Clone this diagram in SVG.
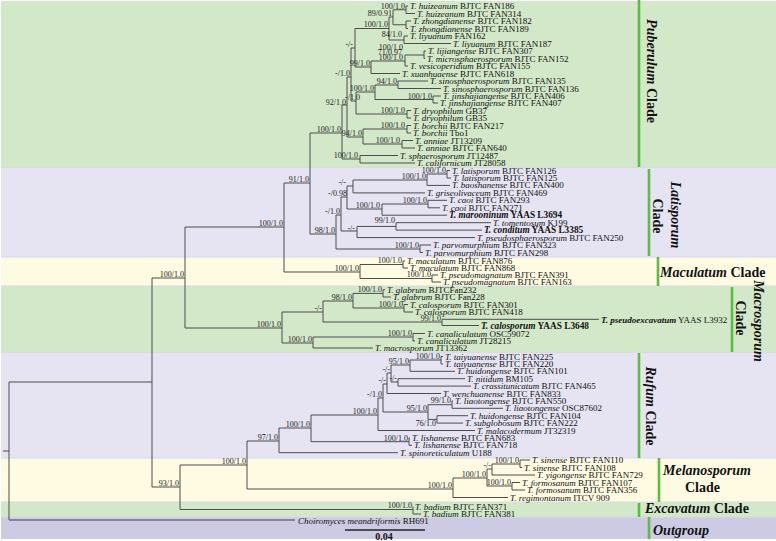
<svg xmlns="http://www.w3.org/2000/svg" width="776" height="541" viewBox="0 0 776 541">
<style>
.br{fill:none;stroke:#4d4d4d;stroke-width:1}
.og{fill:none;stroke:#6e6e88;stroke-width:1.3}
.t{font-family:"Liberation Serif","Times New Roman",serif;font-size:9px;fill:#111}
.i{font-style:italic}
.tb{font-weight:bold;font-size:9.3px}
.s{font-family:"Liberation Serif","Times New Roman",serif;font-size:8px;fill:#222;text-anchor:end}
.cl{font-family:"Liberation Serif","Times New Roman",serif;font-size:14px;font-weight:bold;fill:#111}
.mid{text-anchor:middle}
.bar{stroke:#5dbb48;stroke-width:2.6}
.sep{stroke:#d6dbe8;stroke-width:1}
</style>

<!-- clade bands -->
<g id="bands">
  <rect x="0" y="0" width="776" height="541" fill="#ffffff"/>
  <rect x="1" y="1" width="775" height="166.5" fill="#d3e8c8"/>
  <rect x="1" y="167.5" width="775" height="89.5" fill="#e6e4f3"/>
  <rect x="1" y="257" width="775" height="29" fill="#fefbe2"/>
  <rect x="1" y="286" width="775" height="66.5" fill="#d3e8c8"/>
  <rect x="1" y="352.5" width="775" height="105.5" fill="#e6e4f3"/>
  <rect x="1" y="458" width="775" height="44" fill="#fefbe2"/>
  <rect x="1" y="502" width="775" height="15" fill="#d3e8c8"/>
  <rect x="1" y="517" width="775" height="22" fill="#cdcae4"/>
  <path class="sep" d="M1,167.5H776M1,257H776M1,286H776M1,352.5H776M1,458H776M1,502H776M1,517H776"/>
</g>

<!-- branches -->
<g id="branches">
  <path class="br" d="M3,451H9M9,382V520M9,382H152M152,278V487M152,278H185M185,227V328M152,487H180M180,465V509.5M185,227H284M284,183V272M185,328H282M282,312V343M284,183H310M310,133V234M284,272H360M360,264.5V278.5M310,133H342M342,105V159M310,234H336M336,215V249"/>
  <path class="og" d="M9,520H295"/>
  <path class="br" d="M342,105H347M347,77V137M347,77H351M351,48V101M351,48H355M355,28.5V67M355,28.5H389M389,17V40M389,17H393M393,9.75V24.75M393,9.75H406M406,6V13.5M406,6H408M406,13.5H415M393,24.75H406M406,21V28.5M406,21H411M406,28.5H408M389,40H404M404,36V43.5M404,36H408M404,43.5H451M355,67H371M371,61V73.5M371,73.5H400M371,61H405M405,55V66M405,66H408M405,55H424M424,51V58.5M424,51H426M424,58.5H425M351,101H356M356,92V114M356,92H375M375,85V99.5M375,85H398M398,81V88.5M398,81H428M398,88.5H441M375,99.5H433M433,96V103M433,96H441M433,103H438M356,114H407M407,110.5V118M407,110.5H411M407,118H411M347,137H363M363,129V144M363,129H407M407,125.5V133M407,125.5H411M407,133H411M363,144H402M402,140.5V148M402,140.5H413M402,148H415M342,159H360M360,155.5V163M360,155.5H398M360,163H415"/>
  <path class="br" d="M336,215H341M341,197V231M341,197H347M347,186V209M347,186H353M353,180V192.9M353,192.9H425M353,180H427M427,174V185.4M427,185.4H450M427,174H447M447,170.5V178M447,170.5H450M447,178H451M347,209H382M382,204V215.2M382,215.2H447M382,204H428M428,200.3V207.8M428,200.3H447M428,207.8H440M341,231H357M357,226.4V237.6M357,237.6H475M357,226.4H396M396,222.7V230.1M396,222.7H491M396,230.1H482M336,249H420M420,245V252.5M420,245H431M420,252.5H423"/>
  <path class="br" d="M360,264.5H403M403,261V268M403,261H405M403,268H408M360,278.5H432M432,275V282M432,275H438M432,282H441"/>
  <path class="br" d="M282,312H323M323,301V322M323,301H353M353,293.4V308M353,293.4H383M383,289.7V297M383,289.7H385M383,297H391M353,308H404M404,304.5V312M404,304.5H408M404,312H413M323,322H442M442,319.3V325.5M442,319.3H599M442,325.5H479M282,343H313M313,337V348M313,348H373M313,337H413M413,333.5V341M413,333.5H425M413,341H415"/>
  <path class="br" d="M180,465H247M247,441V489M247,441H279M279,428V452.7M279,452.7H398M279,428H311M311,415V441.7M311,441.7H409M409,438V445.3M409,438H410M409,445.3H412M311,415H378M378,398V430.5M378,430.5H475M378,398H383M383,384V412M383,384H387M387,373V393.5M387,393.5H441M387,373H391M391,365V382M391,365H410M410,360V371.3M410,371.3H455M410,360H441M441,356.5V364M441,356.5H443M441,364H443M391,382H398M398,378.7V386.1M398,378.7H465M398,386.1H471M383,412H428M428,404.7V419.4M428,404.7H452M452,401V408.3M452,401H453M452,408.3H503M428,419.4H437M437,415.7V423.1M437,415.7H468M437,423.1H463"/>
  <path class="br" d="M247,489H453M453,478V497.5M453,497.5H508M453,478H487M487,469V486M487,469H492M492,464V475M492,475H535M492,464H520M520,460V467.5M520,460H530M520,467.5H522M487,486H512M512,482.5V490M512,482.5H520M512,490H525"/>
  <path class="br" d="M180,509.5H413M413,506.5V514M413,514H421"/>
</g>

<!-- support values on internal nodes -->
<g id="node-supports" class="s">
  <g id="n-hui"><text x="405" y="8.6">100/1.0</text></g>
  <g id="n-hz"><text x="392" y="15.8">89/0.91</text></g>
  <g id="n-389"><text x="388" y="27.3">100/1.0</text></g>
  <g id="n-liy"><text x="402" y="37">84/1.0</text><text x="403" y="49.5">100/1.0</text></g>
  <g id="n-y"><text x="402" y="54.8">71/0.97</text></g>
  <g id="n-x"><text x="403" y="60">100/1.0</text></g>
  <g id="n-v"><text x="370" y="66">99/1.0</text></g>
  <g id="n-s"><text x="353" y="47">-/-</text></g>
  <g id="n-r"><text x="350" y="76">-/1.0</text></g>
  <g id="n-sino"><text x="397" y="84">94/1.0</text></g>
  <g id="n-375"><text x="374" y="91">100/1.0</text></g>
  <g id="n-jin"><text x="432" y="98.5">100/1.0</text></g>
  <g id="n-t"><text x="360" y="100">-/1.0</text></g>
  <g id="n-q"><text x="346" y="104.5">92/1.0</text></g>
  <g id="n-dry"><text x="405" y="113">100/1.0</text></g>
  <g id="n-bor"><text x="405" y="128">100/1.0</text></g>
  <g id="n-pub"><text x="341" y="132">100/1.0</text></g>
  <g id="n-u"><text x="362" y="136">94/1.0</text></g>
  <g id="n-ann"><text x="400" y="143">100/1.0</text></g>
  <g id="n-sc"><text x="358" y="158">100/1.0</text></g>

  <g id="n-lat"><text x="446" y="172.8">100/1.0</text></g>
  <g id="n-lb"><text x="426" y="178.8">100/1.0</text></g>
  <g id="n-h"><text x="346" y="184.8">-/-</text></g>
  <g id="n-k"><text x="347" y="196">-/0.98</text></g>
  <g id="n-cm"><text x="380" y="208">100/1.0</text></g>
  <g id="n-caoi"><text x="427" y="203">100/1.0</text></g>
  <g id="n-m"><text x="340" y="214">-/1.0</text></g>
  <g id="n-j"><text x="355" y="231">-/-</text></g>
  <g id="n-tc"><text x="395" y="223">99/1.0</text></g>
  <g id="n-parvo"><text x="419" y="248">100/1.0</text></g>
  <g id="n-latis"><text x="335" y="233">98/1.0</text></g>
  <g id="n-310"><text x="309" y="182">91/1.0</text></g>
  <g id="n-284"><text x="283" y="226">100/1.0</text></g>
  <g id="n-185"><text x="184" y="277">100/1.0</text></g>

  <g id="n-mac"><text x="402" y="263.3">100/1.0</text></g>
  <g id="n-pm"><text x="431" y="277.3">100/1.0</text></g>
  <g id="n-macul"><text x="359" y="270.8">100/1.0</text></g>

  <g id="n-gc"><text x="322" y="310.8">-/-</text></g>
  <g id="n-98"><text x="352" y="299.8">98/1.0</text></g>
  <g id="n-glab"><text x="382" y="292.2">100/1.0</text></g>
  <g id="n-calo"><text x="403" y="306.8">100/1.0</text></g>
  <g id="n-99"><text x="441" y="320.8">99/1.0</text></g>
  <g id="n-can"><text x="412" y="335.8">100/1.0</text></g>
  <g id="n-313"><text x="312" y="341.8">100/1.0</text></g>
  <g id="n-macro"><text x="281" y="326.8">100/1.0</text></g>

  <g id="n-tai"><text x="440" y="358.8">100/1.0</text></g>
  <g id="n-95a"><text x="409" y="363.8">95/1.0</text></g>
  <g id="n-g"><text x="390" y="371.8">-/-</text></g>
  <g id="n-nc"><text x="397" y="380.8">-/-</text></g>
  <g id="n-d2"><text x="386" y="382.8">-/-</text></g>
  <g id="n-c1"><text x="382" y="396.8">-/1.0</text></g>
  <g id="n-e"><text x="427" y="410.8">95/1.0</text></g>
  <g id="n-lia"><text x="451" y="403.3">99/1.0</text></g>
  <g id="n-76"><text x="436" y="425.5">76/1.0</text></g>
  <g id="n-c"><text x="377" y="413.8">100/1.0</text></g>
  <g id="n-lish"><text x="408" y="440.5">100/1.0</text></g>
  <g id="n-b"><text x="310" y="426.8">100/1.0</text></g>
  <g id="n-rufum"><text x="278" y="439.8">97/1.0</text></g>
  <g id="n-247"><text x="246" y="463.8">100/1.0</text></g>

  <g id="n-mel"><text x="452" y="487.8">100/1.0</text></g>
  <g id="n-487"><text x="486" y="476.8">100/1.0</text></g>
  <g id="n-sy"><text x="491" y="467.8">-/-</text></g>
  <g id="n-sin"><text x="519" y="462.8">100/1.0</text></g>
  <g id="n-form"><text x="511" y="484.8">100/1.0</text></g>
  <g id="n-180"><text x="179" y="485.8">93/1.0</text></g>
  <g id="n-bad"><text x="412" y="508.3">100/1.0</text></g>
</g>

<!-- terminal taxa -->
<g id="tips" class="t">
  <g id="tip-p1"><text x="410" y="9"><tspan class="i">T. huizeanum</tspan> BJTC FAN186</text></g>
  <g id="tip-p2"><text x="417" y="16.5"><tspan class="i">T. huizeanum</tspan> BJTC FAN314</text></g>
  <g id="tip-p3"><text x="413" y="24"><tspan class="i">T. zhongdianense</tspan> BJTC FAN182</text></g>
  <g id="tip-p4"><text x="410" y="31.5"><tspan class="i">T. zhongdianense</tspan> BJTC FAN189</text></g>
  <g id="tip-p5"><text x="410" y="39"><tspan class="i">T. liyuanum</tspan> FAN162</text></g>
  <g id="tip-p6"><text x="453" y="46.5"><tspan class="i">T. liyuanum</tspan> BJTC FAN187</text></g>
  <g id="tip-p7"><text x="428" y="54"><tspan class="i">T. lijiangense</tspan> BJTC FAN307</text></g>
  <g id="tip-p8"><text x="427" y="61.5"><tspan class="i">T. microsphaerosporum</tspan> BJTC FAN152</text></g>
  <g id="tip-p9"><text x="410" y="69"><tspan class="i">T. vesicoperidium</tspan> BJTC FAN155</text></g>
  <g id="tip-p10"><text x="402" y="76.5"><tspan class="i">T. xuanhuaense</tspan> BJTC FAN618</text></g>
  <g id="tip-p11"><text x="430" y="84"><tspan class="i">T. sinosphaerosporum</tspan> BJTC FAN135</text></g>
  <g id="tip-p12"><text x="443" y="91.5"><tspan class="i">T. sinosphaerosporum</tspan> BJTC FAN136</text></g>
  <g id="tip-p13"><text x="443" y="99"><tspan class="i">T. jinshajiangense</tspan> BJTC FAN406</text></g>
  <g id="tip-p14"><text x="440" y="106"><tspan class="i">T. jinshajiangense</tspan> BJTC FAN407</text></g>
  <g id="tip-p15"><text x="413" y="113.5"><tspan class="i">T. dryophilum</tspan> GB37</text></g>
  <g id="tip-p16"><text x="413" y="121"><tspan class="i">T. dryophilum</tspan> GB35</text></g>
  <g id="tip-p17"><text x="413" y="128.5"><tspan class="i">T. borchii</tspan> BJTC FAN217</text></g>
  <g id="tip-p18"><text x="413" y="136"><tspan class="i">T. borchii</tspan> Tbo1</text></g>
  <g id="tip-p19"><text x="415" y="143.5"><tspan class="i">T. anniae</tspan> JT13209</text></g>
  <g id="tip-p20"><text x="417" y="151"><tspan class="i">T. anniae</tspan> BJTC FAN640</text></g>
  <g id="tip-p21"><text x="400" y="158.5"><tspan class="i">T. sphaerosporum</tspan> JT12487</text></g>
  <g id="tip-p22"><text x="417" y="166"><tspan class="i">T. californicum</tspan> JT28058</text></g>

  <g id="tip-l1"><text x="452" y="173.5"><tspan class="i">T. latisporum</tspan> BJTC FAN126</text></g>
  <g id="tip-l2"><text x="453" y="181"><tspan class="i">T. latisporum</tspan> BJTC FAN125</text></g>
  <g id="tip-l3"><text x="452" y="188.4"><tspan class="i">T. baoshanense</tspan> BJTC FAN400</text></g>
  <g id="tip-l4"><text x="427" y="195.9"><tspan class="i">T. griseolivaceum</tspan> BJTC FAN469</text></g>
  <g id="tip-l5"><text x="449" y="203.3"><tspan class="i">T. caoi</tspan> BJTC FAN293</text></g>
  <g id="tip-l6"><text x="442" y="210.8"><tspan class="i">T. caoi</tspan> BJTC FAN271</text></g>
  <g id="tip-l7"><text class="tb" x="449" y="218.2"><tspan class="i">T. marooninum</tspan> YAAS L3694</text></g>
  <g id="tip-l8"><text x="493" y="225.7"><tspan class="i">T. tomentosum</tspan> K199</text></g>
  <g id="tip-l9"><text class="tb" x="484" y="233.1"><tspan class="i">T. conditum</tspan> YAAS L3385</text></g>
  <g id="tip-l10"><text x="477" y="240.6"><tspan class="i">T. pseudosphaerosporum</tspan> BJTC FAN250</text></g>
  <g id="tip-l11"><text x="433" y="248"><tspan class="i">T. parvomurphium</tspan> BJTC FAN323</text></g>
  <g id="tip-l12"><text x="425" y="255.5"><tspan class="i">T. parvomurphium</tspan> BJTC FAN298</text></g>

  <g id="tip-c1"><text x="407" y="264"><tspan class="i">T. maculatum</tspan> BJTC FAN876</text></g>
  <g id="tip-c2"><text x="410" y="271"><tspan class="i">T. maculatum</tspan> BJTC FAN868</text></g>
  <g id="tip-c3"><text x="440" y="278"><tspan class="i">T. pseudomagnatum</tspan> BJTC FAN391</text></g>
  <g id="tip-c4"><text x="443" y="285"><tspan class="i">T. pseudomagnatum</tspan> BJTC FAN163</text></g>

  <g id="tip-g1"><text x="387" y="292.7"><tspan class="i">T. glabrum</tspan> BJTCFan232</text></g>
  <g id="tip-g2"><text x="393" y="300"><tspan class="i">T. glabrum</tspan> BJTC Fan228</text></g>
  <g id="tip-g3"><text x="410" y="307.5"><tspan class="i">T. calosporum</tspan> BJTC FAN301</text></g>
  <g id="tip-g4"><text x="415" y="315"><tspan class="i">T. calosporum</tspan> BJTC FAN418</text></g>
  <g id="tip-g5"><text x="601" y="322.5"><tspan class="i" font-weight="bold">T. pseudoexcavatum</tspan> YAAS L3932</text></g>
  <g id="tip-g6"><text class="tb" x="481" y="328.5"><tspan class="i">T. calosporum</tspan> YAAS L3648</text></g>
  <g id="tip-g7"><text x="427" y="336.5"><tspan class="i">T. canaliculatum</tspan> OSC59072</text></g>
  <g id="tip-g8"><text x="417" y="344"><tspan class="i">T. canaliculatum</tspan> JT28215</text></g>
  <g id="tip-g9"><text x="375" y="351"><tspan class="i">T. macrosporum</tspan> JT13362</text></g>

  <g id="tip-r1"><text x="445" y="359.5"><tspan class="i">T. taiyuanense</tspan> BJTC FAN225</text></g>
  <g id="tip-r2"><text x="445" y="367"><tspan class="i">T. taiyuanense</tspan> BJTC FAN220</text></g>
  <g id="tip-r3"><text x="457" y="374.3"><tspan class="i">T. huidongense</tspan> BJTC FAN101</text></g>
  <g id="tip-r4"><text x="467" y="381.7"><tspan class="i">T. nitidum</tspan> BM105</text></g>
  <g id="tip-r5"><text x="473" y="389.1"><tspan class="i">T. crassitunicatum</tspan> BJTC FAN465</text></g>
  <g id="tip-r6"><text x="443" y="396.5"><tspan class="i">T. wenchuanense</tspan> BJTC FAN833</text></g>
  <g id="tip-r7"><text x="455" y="404"><tspan class="i">T. liaotongense</tspan> BJTC FAN550</text></g>
  <g id="tip-r8"><text x="505" y="411.3"><tspan class="i">T. liaotongense</tspan> OSC87602</text></g>
  <g id="tip-r9"><text x="470" y="418.7"><tspan class="i">T. huidongense</tspan> BJTC FAN104</text></g>
  <g id="tip-r10"><text x="465" y="426.1"><tspan class="i">T. subglobosum</tspan> BJTC FAN222</text></g>
  <g id="tip-r11"><text x="477" y="433.5"><tspan class="i">T. malacodermum</tspan> JT32319</text></g>
  <g id="tip-r12"><text x="412" y="441"><tspan class="i">T. lishanense</tspan> BJTC FAN683</text></g>
  <g id="tip-r13"><text x="414" y="448.3"><tspan class="i">T. lishanense</tspan> BJTC FAN718</text></g>
  <g id="tip-r14"><text x="400" y="455.7"><tspan class="i">T. spinoreticulatum</tspan> U188</text></g>

  <g id="tip-m1"><text x="532" y="463"><tspan class="i">T. sinense</tspan> BJTC FAN110</text></g>
  <g id="tip-m2"><text x="524" y="470.5"><tspan class="i">T. sinense</tspan> BJTC FAN108</text></g>
  <g id="tip-m3"><text x="537" y="478"><tspan class="i">T. yigongense</tspan> BJTC FAN729</text></g>
  <g id="tip-m4"><text x="522" y="485.5"><tspan class="i">T. formosanum</tspan> BJTC FAN107</text></g>
  <g id="tip-m5"><text x="527" y="493"><tspan class="i">T. formosanum</tspan> BJTC FAN356</text></g>
  <g id="tip-m6"><text x="510" y="500.5"><tspan class="i">T. regimontanum</tspan> ITCV 909</text></g>

  <g id="tip-e1"><text x="415" y="509.5"><tspan class="i">T. badium</tspan> BJTC FAN371</text></g>
  <g id="tip-e2"><text x="423" y="517"><tspan class="i">T. badium</tspan> BJTC FAN381</text></g>

  <g id="tip-out"><text x="298" y="524"><tspan class="i">Choiromyces meandriformis</tspan> RH691</text></g>
</g>

<!-- scale bar -->
<g id="scale">
  <path d="M345,530H425" stroke="#222" stroke-width="1.3"/>
  <text x="384" y="539.5" class="mid" font-family="Liberation Serif, serif" font-size="10" font-weight="bold" fill="#111">0.04</text>
</g>

<!-- clade markers -->
<g id="clade-bars">
  <path class="bar" d="M639,0V167M649,169V256M658,257V286M732,287V352M639,353V458M659,458V502M639,503V517M649,517V539"/>
</g>
<g id="clade-puberulum"><text class="cl mid" transform="translate(646.5,71) rotate(90)"><tspan class="i">Puberulum</tspan> Clade</text></g>
<g id="clade-latisporum">
  <text class="cl mid i" transform="translate(670.5,215) rotate(90)">Latisporum</text>
  <text class="cl mid" transform="translate(652.5,216) rotate(90)">Clade</text>
</g>
<g id="clade-maculatum"><text class="cl" x="660" y="277"><tspan class="i">Maculatum</tspan> Clade</text></g>
<g id="clade-macrosporum">
  <text class="cl mid i" transform="translate(753.5,321) rotate(90)">Macrosporum</text>
  <text class="cl mid" transform="translate(735.5,318) rotate(90)">Clade</text>
</g>
<g id="clade-rufum"><text class="cl mid" transform="translate(645.5,406) rotate(90)"><tspan class="i">Rufum</tspan> Clade</text></g>
<g id="clade-melanosporum">
  <text class="cl i" x="663" y="475">Melanosporum</text>
  <text class="cl" x="685" y="492">Clade</text>
</g>
<g id="clade-excavatum"><text class="cl" x="645" y="513"><tspan class="i">Excavatum</tspan> Clade</text></g>
<g id="clade-outgroup"><text class="cl i" x="653" y="535">Outgroup</text></g>
</svg>
